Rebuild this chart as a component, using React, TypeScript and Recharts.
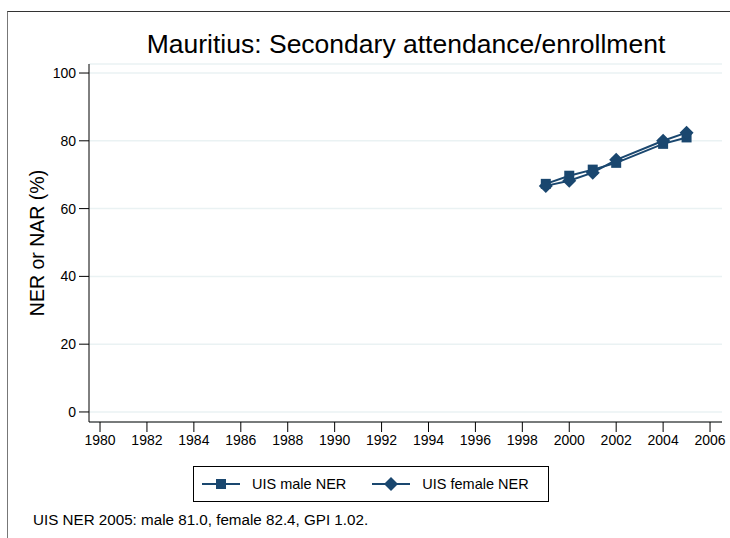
import React from "react";
import { LineChart, Line, XAxis, YAxis, CartesianGrid } from "recharts";

const years = [1999, 2000, 2001, 2002, 2004, 2005];
const maleNER = [67.3, 69.7, 71.5, 73.5, 79.1, 81.0];
const femaleNER = [66.7, 68.2, 70.6, 74.4, 80.0, 82.4];
const xTicks = [1980, 1982, 1984, 1986, 1988, 1990, 1992, 1994, 1996, 1998, 2000, 2002, 2004, 2006];
const yTicks = [0, 20, 40, 60, 80, 100];

const NAVY = "#1a476f";
const FONT = "'Liberation Sans', Arial, sans-serif";

const data = years.map((year, i) => ({ year, male: maleNER[i], female: femaleNER[i] }));

const Square = (props: any) => {
  const { cx, cy, index } = props;
  if (cx == null || cy == null) return <g key={index} />;
  return <rect key={index} x={cx - 5} y={cy - 5} width={10} height={10} fill={NAVY} />;
};

const Diamond = (props: any) => {
  const { cx, cy, index } = props;
  if (cx == null || cy == null) return <g key={index} />;
  const r = 7;
  return (
    <path
      key={index}
      d={`M${cx},${cy - r}L${cx + r},${cy}L${cx},${cy + r}L${cx - r},${cy}Z`}
      fill={NAVY}
    />
  );
};

export default function App() {
  return (
    <div
      style={{
        position: "absolute",
        left: 0,
        top: 0,
        width: 730,
        height: 538,
        background: "#fff",
        fontFamily: FONT,
        overflow: "hidden",
      }}
    >
      {/* outer frame */}
      <div
        style={{
          position: "absolute",
          left: 7,
          top: 11,
          width: 740,
          height: 540,
          borderTop: "1px solid #333",
          borderLeft: "1px solid #777",
        }}
      />
      <div
        style={{
          position: "absolute",
          left: 89,
          width: 634,
          top: 29,
          textAlign: "center",
          fontSize: 26.5,
          lineHeight: "30px",
          color: "#000",
        }}
      >
        Mauritius: Secondary attendance/enrollment
      </div>
      <div style={{ position: "absolute", left: 0, top: 0 }}>
        <LineChart
          width={730}
          height={538}
          data={data}
          margin={{ top: 64, left: 49, right: 8, bottom: 86 }}
        >
          <CartesianGrid horizontal vertical={false} stroke="#eaf2f3" strokeWidth={1.5} />
          <XAxis
            dataKey="year"
            type="number"
            domain={[1979.53, 2006.51]}
            allowDataOverflow
            ticks={xTicks}
            interval={0}
            height={30}
            stroke="#000"
            tickSize={10}
            tickMargin={3}
            tick={{ fontSize: 14, fill: "#000", fontFamily: FONT }}
          />
          <YAxis
            type="number"
            domain={[-2.96, 102.66]}
            allowDataOverflow
            ticks={yTicks}
            interval={0}
            width={40}
            stroke="#000"
            tickSize={10}
            tickMargin={3}
            tick={{ fontSize: 14, fill: "#000", fontFamily: FONT }}
          />
          <Line
            dataKey="male"
            stroke={NAVY}
            strokeWidth={2}
            dot={Square}
            activeDot={false}
            isAnimationActive={false}
          />
          <Line
            dataKey="female"
            stroke={NAVY}
            strokeWidth={2}
            dot={Diamond}
            activeDot={false}
            isAnimationActive={false}
          />
        </LineChart>
      </div>
      <div
        style={{
          position: "absolute",
          left: 37,
          top: 243,
          transform: "translate(-50%, -50%) rotate(-90deg)",
          fontSize: 19.5,
          whiteSpace: "nowrap",
        }}
      >
        NER or NAR (%)
      </div>
      {/* legend */}
      <div
        style={{
          position: "absolute",
          left: 193,
          top: 466,
          width: 354,
          height: 34,
          border: "1px solid #000",
          display: "flex",
          alignItems: "center",
          fontSize: 14.5,
        }}
      >
        <svg width={38} height={14} style={{ marginLeft: 8 }}>
          <line x1={0} y1={7} x2={38} y2={7} stroke={NAVY} strokeWidth={2} />
          <rect x={14} y={2} width={10} height={10} fill={NAVY} />
        </svg>
        <span style={{ marginLeft: 12 }}>UIS male NER</span>
        <svg width={38} height={16} style={{ marginLeft: 26 }}>
          <line x1={0} y1={8} x2={38} y2={8} stroke={NAVY} strokeWidth={2} />
          <path d="M19,1L26,8L19,15L12,8Z" fill={NAVY} />
        </svg>
        <span style={{ marginLeft: 12 }}>UIS female NER</span>
      </div>
      <div style={{ position: "absolute", left: 33, top: 511, fontSize: 15.2 }}>
        UIS NER 2005: male 81.0, female 82.4, GPI 1.02.
      </div>
    </div>
  );
}
